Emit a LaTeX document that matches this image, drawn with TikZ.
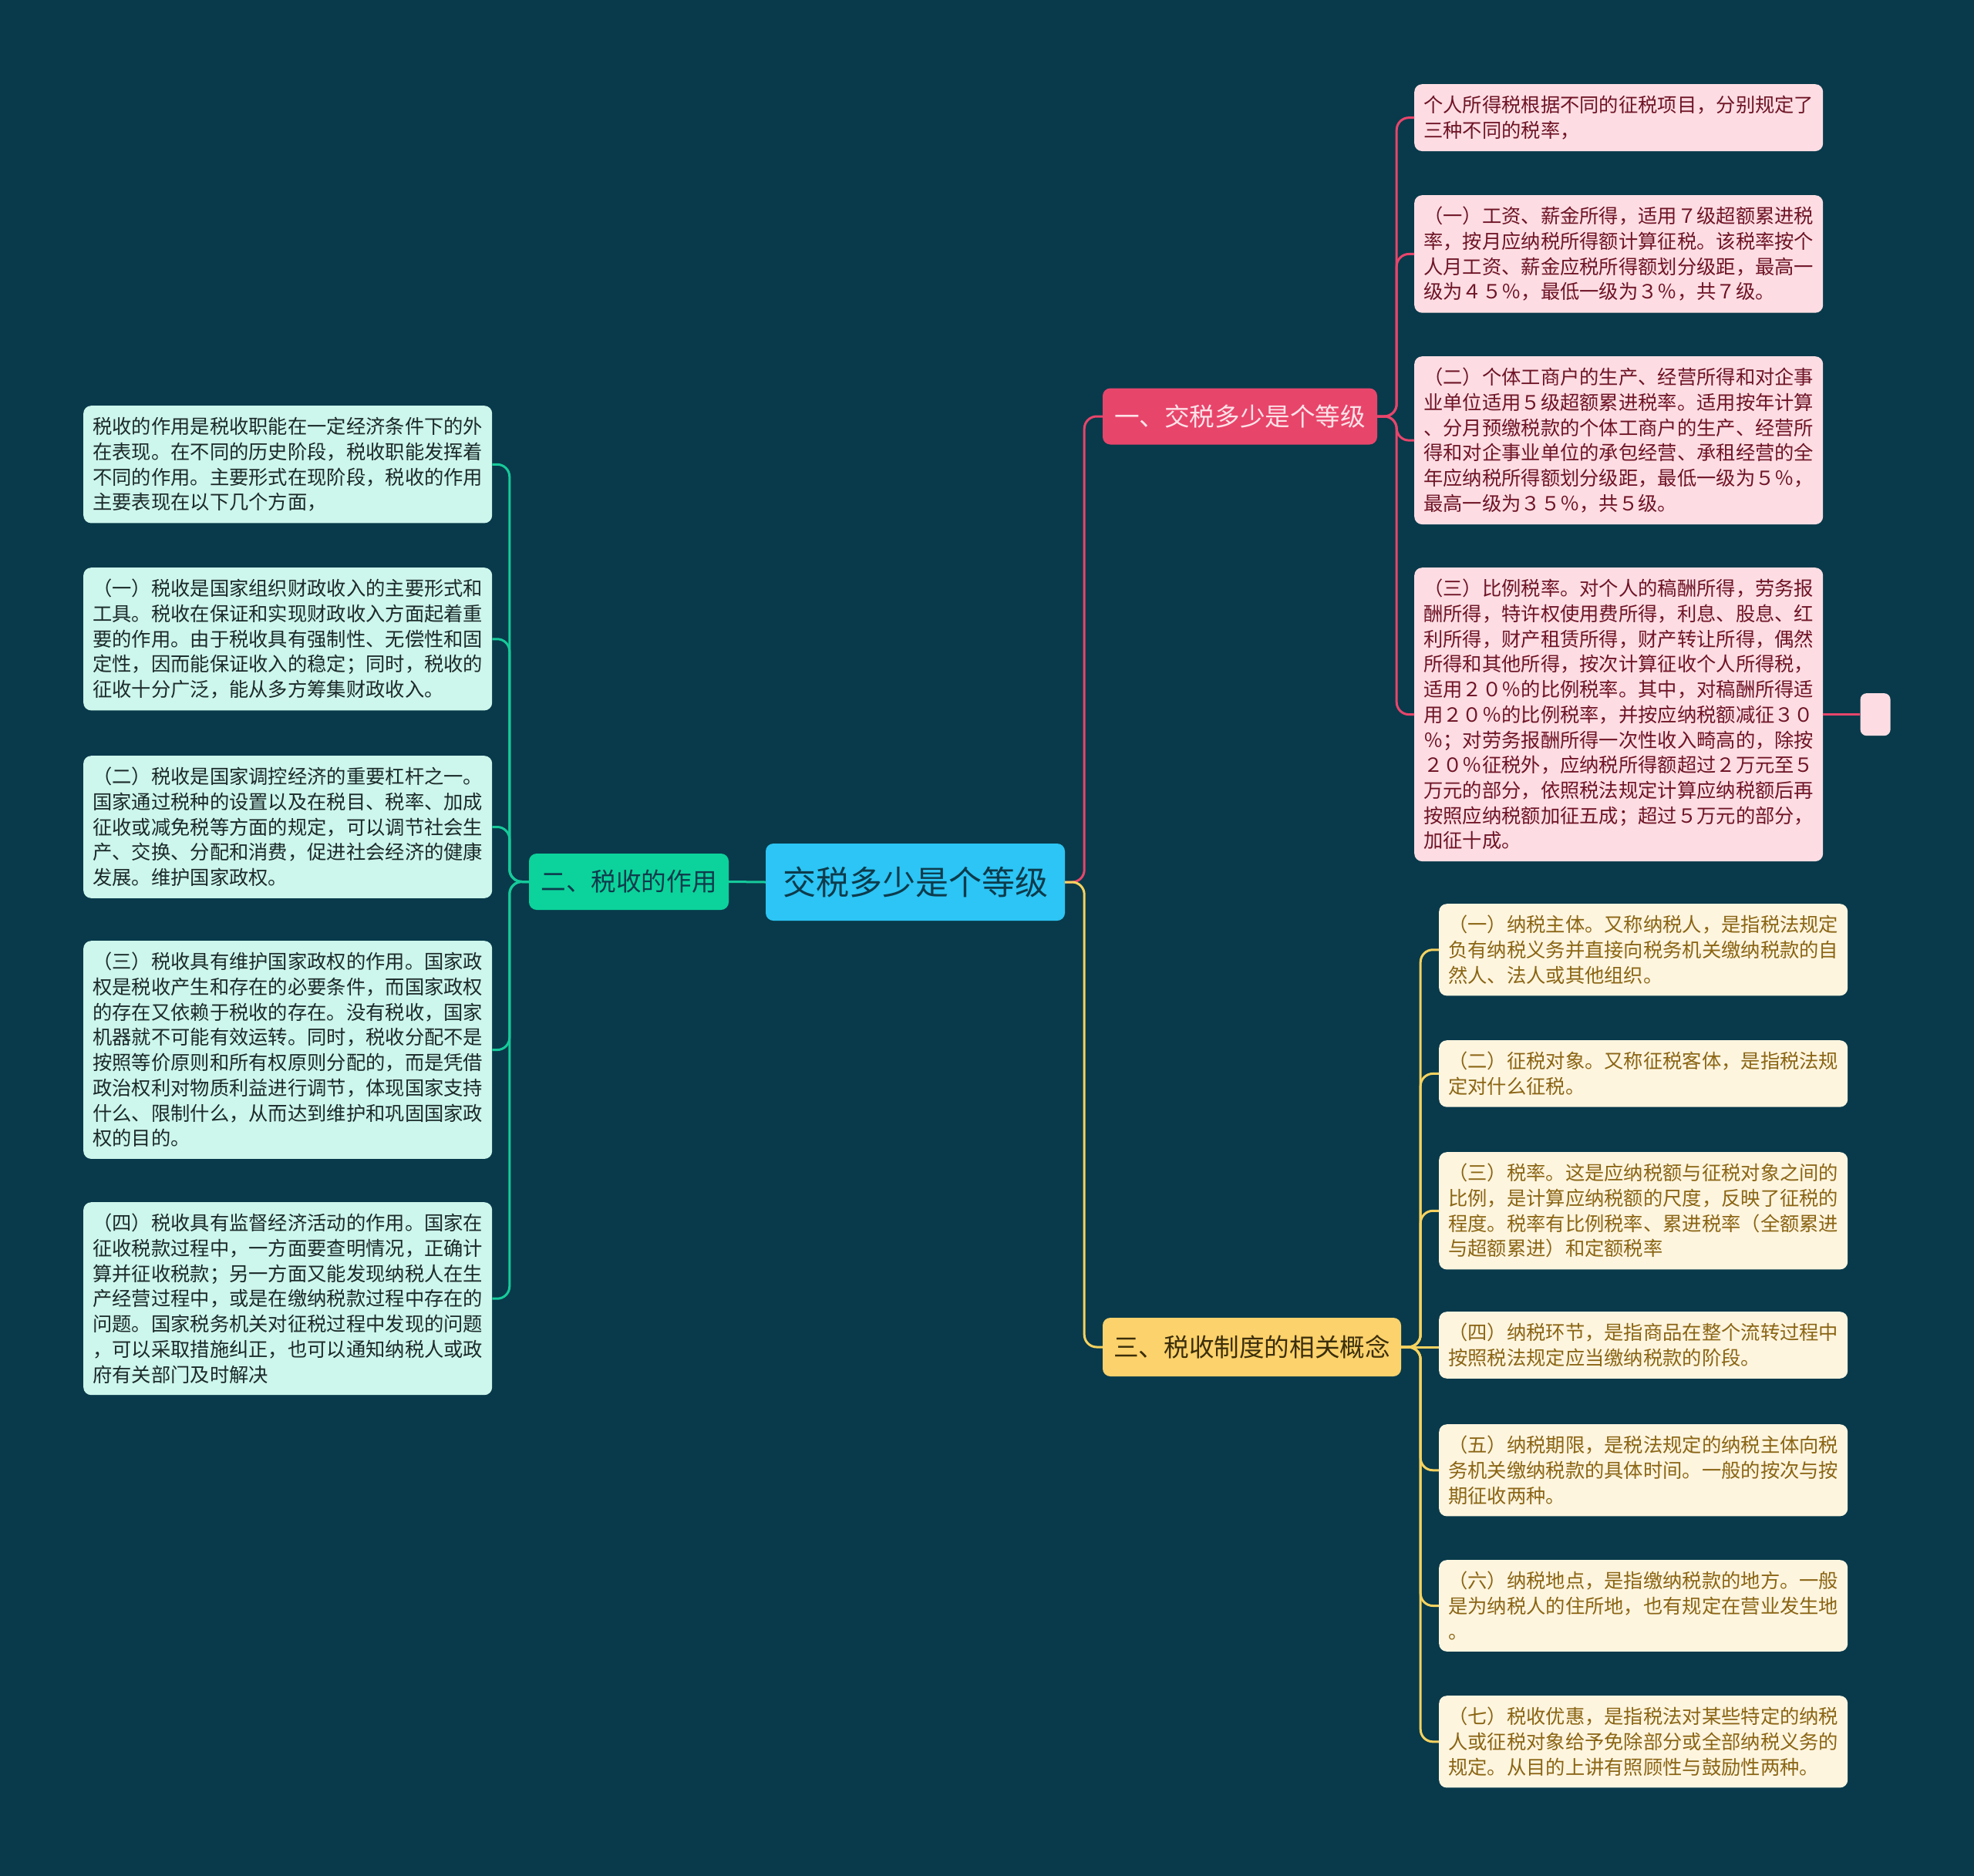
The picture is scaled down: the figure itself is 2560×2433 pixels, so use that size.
\documentclass[tikz,border=0pt]{standalone}
\usepackage{fontspec}
\setmainfont{Noto Sans CJK SC}
\usepackage{tikz}
\usetikzlibrary{positioning}
\usepackage{xcolor}

\definecolor{bgcol}{RGB}{8,58,75}
\definecolor{rootfill}{RGB}{44,197,245}
\definecolor{roottext}{RGB}{13,59,76}
\definecolor{pinkline}{RGB}{232,69,107}
\definecolor{pinkleaf}{RGB}{253,221,227}
\definecolor{pinktext}{RGB}{110,20,38}
\definecolor{pinkhead}{RGB}{253,227,232}
\definecolor{greenline}{RGB}{22,202,154}
\definecolor{greenfill}{RGB}{12,211,155}
\definecolor{greenleaf}{RGB}{205,246,236}
\definecolor{greentext}{RGB}{27,42,42}
\definecolor{yellowline}{RGB}{246,210,95}
\definecolor{yellowfill}{RGB}{252,210,108}
\definecolor{yellowleaf}{RGB}{254,245,223}
\definecolor{yellowtext}{RGB}{138,101,20}
\definecolor{yellowhead}{RGB}{59,46,10}

\setlength{\parindent}{0pt}
\newcommand{\leaffont}{\fontsize{25.3}{32.7}\selectfont}
\newcommand{\branchfont}{\fontsize{32.6}{36}\selectfont}
\newcommand{\rootfont}{\fontsize{43}{48}\selectfont}

\begin{document}
\begin{tikzpicture}[x=1pt,y=1pt,yscale=-1,
  leafbox/.style={rounded corners=10pt, text width=506pt, inner xsep=12pt, inner ysep=15pt, align=left, font=\leaffont, anchor=north west},
  pinkbox/.style={leafbox, fill=pinkleaf, text=pinktext},
  greenbox/.style={leafbox, fill=greenleaf, text=greentext},
  yellowbox/.style={leafbox, fill=yellowleaf, text=yellowtext},
  headbox/.style={rounded corners=10pt, inner sep=0pt, font=\branchfont, minimum height=73pt},
  link/.style={line width=3pt, rounded corners=16pt}]

%Shape: background
\fill[bgcol] (0,0) rectangle (2560,2433);
\useasboundingbox (0,0) rectangle (2560,2433);

% Text Node: root
\node (root) [rounded corners=10pt, fill=rootfill, text=roottext, font=\rootfont, inner sep=0pt, minimum width=388pt, minimum height=100pt] at (1187,1144) {交税多少是个等级};

% Text Node: branch one
\node (b1) [headbox, fill=pinkline, text=pinkhead, minimum width=356pt] at (1608,540) {一、交税多少是个等级};
% Text Node: branch two
\node (b2) [headbox, fill=greenfill, text=roottext, minimum width=259pt] at (815.5,1143.5) {二、税收的作用};
% Text Node: branch three
\node (b3) [headbox, fill=yellowfill, text=yellowhead, minimum width=387pt, minimum height=76pt] at (1623.5,1747) {三、税收制度的相关概念};

% Text Node: pink leaves
\node (p0) [pinkbox] at (1834,109) {个人所得税根据不同的征税项目，分别规定了\\三种不同的税率，};
\node (p1) [pinkbox] at (1834,253) {（一）工资、薪金所得，适用７级超额累进税\\率，按月应纳税所得额计算征税。该税率按个\\人月工资、薪金应税所得额划分级距，最高一\\级为４５％，最低一级为３％，共７级。};
\node (p2) [pinkbox] at (1834,462) {（二）个体工商户的生产、经营所得和对企事\\业单位适用５级超额累进税率。适用按年计算\\、分月预缴税款的个体工商户的生产、经营所\\得和对企事业单位的承包经营、承租经营的全\\年应纳税所得额划分级距，最低一级为５％，\\最高一级为３５％，共５级。};
\node (p3) [pinkbox] at (1834,736) {（三）比例税率。对个人的稿酬所得，劳务报\\酬所得，特许权使用费所得，利息、股息、红\\利所得，财产租赁所得，财产转让所得，偶然\\所得和其他所得，按次计算征收个人所得税，\\适用２０％的比例税率。其中，对稿酬所得适\\用２０％的比例税率，并按应纳税额减征３０\\％；对劳务报酬所得一次性收入畸高的，除按\\２０％征税外，应纳税所得额超过２万元至５\\万元的部分，依照税法规定计算应纳税额后再\\按照应纳税额加征五成；超过５万元的部分，\\加征十成。};
\node (pe) [right=48pt of p3, rounded corners=8pt, fill=pinkleaf, minimum width=39pt, minimum height=55pt, inner sep=0pt] {};

% Text Node: green leaves
\node (g0) [greenbox] at (108,526) {税收的作用是税收职能在一定经济条件下的外\\在表现。在不同的历史阶段，税收职能发挥着\\不同的作用。主要形式在现阶段，税收的作用\\主要表现在以下几个方面，};
\node (g1) [greenbox] at (108,736) {（一）税收是国家组织财政收入的主要形式和\\工具。税收在保证和实现财政收入方面起着重\\要的作用。由于税收具有强制性、无偿性和固\\定性，因而能保证收入的稳定；同时，税收的\\征收十分广泛，能从多方筹集财政收入。};
\node (g2) [greenbox] at (108,980) {（二）税收是国家调控经济的重要杠杆之一。\\国家通过税种的设置以及在税目、税率、加成\\征收或减免税等方面的规定，可以调节社会生\\产、交换、分配和消费，促进社会经济的健康\\发展。维护国家政权。};
\node (g3) [greenbox] at (108,1220) {（三）税收具有维护国家政权的作用。国家政\\权是税收产生和存在的必要条件，而国家政权\\的存在又依赖于税收的存在。没有税收，国家\\机器就不可能有效运转。同时，税收分配不是\\按照等价原则和所有权原则分配的，而是凭借\\政治权利对物质利益进行调节，体现国家支持\\什么、限制什么，从而达到维护和巩固国家政\\权的目的。};
\node (g4) [greenbox] at (108,1559) {（四）税收具有监督经济活动的作用。国家在\\征收税款过程中，一方面要查明情况，正确计\\算并征收税款；另一方面又能发现纳税人在生\\产经营过程中，或是在缴纳税款过程中存在的\\问题。国家税务机关对征税过程中发现的问题\\，可以采取措施纠正，也可以通知纳税人或政\\府有关部门及时解决};

% Text Node: yellow leaves
\node (y0) [yellowbox] at (1866,1172) {（一）纳税主体。又称纳税人，是指税法规定\\负有纳税义务并直接向税务机关缴纳税款的自\\然人、法人或其他组织。};
\node (y1) [yellowbox] at (1866,1349) {（二）征税对象。又称征税客体，是指税法规\\定对什么征税。};
\node (y2) [yellowbox] at (1866,1494) {（三）税率。这是应纳税额与征税对象之间的\\比例，是计算应纳税额的尺度，反映了征税的\\程度。税率有比例税率、累进税率（全额累进\\与超额累进）和定额税率};
\node (y3) [yellowbox] at (1866,1701) {（四）纳税环节，是指商品在整个流转过程中\\按照税法规定应当缴纳税款的阶段。};
\node (y4) [yellowbox] at (1866,1847) {（五）纳税期限，是税法规定的纳税主体向税\\务机关缴纳税款的具体时间。一般的按次与按\\期征收两种。};
\node (y5) [yellowbox] at (1866,2023) {（六）纳税地点，是指缴纳税款的地方。一般\\是为纳税人的住所地，也有规定在营业发生地\\。};
\node (y6) [yellowbox] at (1866,2199) {（七）税收优惠，是指税法对某些特定的纳税\\人或征税对象给予免除部分或全部纳税义务的\\规定。从目的上讲有照顾性与鼓励性两种。};

%Straight Lines: root to branches
\draw[link, greenline] (root.west) -- (b2.east);
\draw[link, pinkline] (root.east) -- ++(25,0) |- (b1.west);
\draw[link, yellowline] (root.east) -- ++(25,0) |- (b3.west);

%Straight Lines: branch one
\foreach \leaf in {p0,p1,p2,p3}
  \draw[link, pinkline] (b1.east) -- ++(25,0) |- (\leaf.west);
\draw[link, pinkline] (p3.east) -- (pe.west);

%Straight Lines: branch two
\foreach \leaf in {g0,g1,g2,g3,g4}
  \draw[link, greenline] (b2.west) -- ++(-25,0) |- (\leaf.east);

%Straight Lines: branch three
\foreach \leaf in {y0,y1,y2,y4,y5,y6}
  \draw[link, yellowline] (b3.east) -- ++(25,0) |- (\leaf.west);
\draw[link, yellowline] (b3.east) -- (b3.east -| y3.west);

\end{tikzpicture}
\end{document}
